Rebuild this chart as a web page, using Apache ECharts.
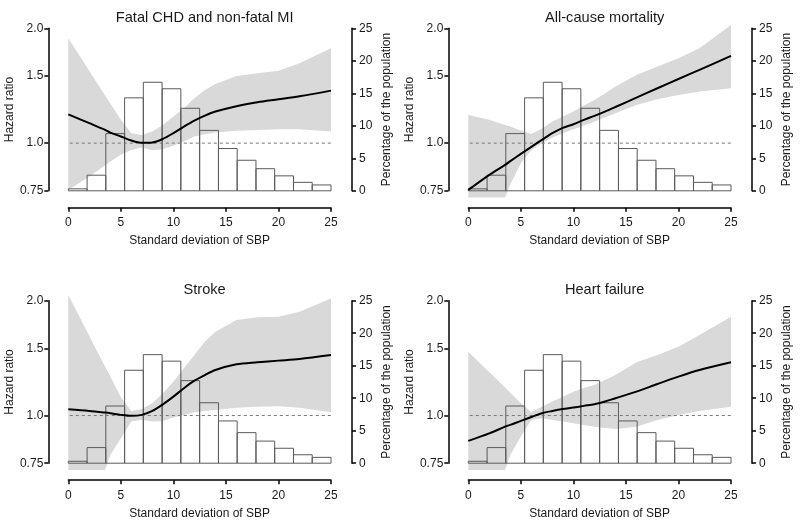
<!DOCTYPE html>
<html>
<head>
<meta charset="utf-8">
<script src="https://cdn.jsdelivr.net/npm/echarts@6/dist/echarts.min.js"></script>
<style>
  html, body { margin: 0; padding: 0; background: #fff; }
  #main { width: 800px; height: 526px; }
</style>
</head>
<body>
<div id="main"></div>
<script>
// 图形数据
var panelTitles = ['Fatal CHD and non-fatal MI', 'All-cause mortality', 'Stroke', 'Heart failure'];

// SD of SBP where the curves were read
var sbpGrid = [0, 2, 3.5, 4, 5, 6, 7, 8, 9, 10, 11, 12, 13, 14, 16, 18, 20, 22, 25];

// hazard ratio curves and 95% bands
var chdHr    = [1.19, 1.128, 1.083, 1.066, 1.041, 1.016, 1.002, 1.004, 1.026, 1.062, 1.105, 1.146, 1.181, 1.21, 1.25, 1.28, 1.303, 1.327, 1.373];
var chdUpper = [1.883, 1.546, 1.334, 1.27, 1.151, 1.062, 1.051, 1.072, 1.116, 1.174, 1.234, 1.311, 1.379, 1.43, 1.5, 1.525, 1.549, 1.619, 1.773];
var chdLower = [0.754, 0.818, 0.874, 0.895, 0.932, 0.96, 0.974, 0.958, 0.964, 0.984, 1.01, 1.041, 1.055, 1.066, 1.077, 1.083, 1.088, 1.088, 1.072];

var mortHr    = [0.754, 0.826, 0.877, 0.897, 0.937, 0.978, 1.02, 1.062, 1.096, 1.121, 1.151, 1.179, 1.21, 1.244, 1.316, 1.393, 1.473, 1.556, 1.693];
var mortUpper = [1.186, 1.151, 1.116, 1.105, 1.08, 1.057, 1.09, 1.139, 1.175, 1.21, 1.255, 1.298, 1.35, 1.407, 1.509, 1.587, 1.669, 1.773, 2.04];
var mortLower = [0.72, 0.72, 0.72, 0.78, 0.886, 0.96, 1.0, 1.035, 1.062, 1.088, 1.113, 1.139, 1.168, 1.198, 1.259, 1.303, 1.338, 1.365, 1.393];

var strokeHr    = [1.038, 1.028, 1.018, 1.014, 1.004, 0.998, 1.004, 1.028, 1.07, 1.121, 1.179, 1.234, 1.277, 1.316, 1.362, 1.379, 1.393, 1.407, 1.441];
var strokeUpper = [2.07, 1.616, 1.343, 1.265, 1.116, 1.028, 1.04, 1.077, 1.144, 1.227, 1.33, 1.441, 1.562, 1.659, 1.78, 1.809, 1.815, 1.872, 2.028];
var strokeLower = [0.72, 0.72, 0.72, 0.788, 0.872, 0.964, 0.975, 0.964, 0.968, 0.988, 1.004, 1.02, 1.027, 1.034, 1.048, 1.054, 1.058, 1.048, 1.02];

var hfHr    = [0.858, 0.898, 0.935, 0.945, 0.968, 0.991, 1.014, 1.028, 1.04, 1.049, 1.06, 1.07, 1.088, 1.11, 1.155, 1.21, 1.265, 1.316, 1.379];
var hfUpper = [1.47, 1.298, 1.184, 1.146, 1.077, 1.02, 1.055, 1.088, 1.12, 1.155, 1.18, 1.203, 1.24, 1.277, 1.379, 1.441, 1.515, 1.626, 1.816];
var hfLower = [0.72, 0.72, 0.72, 0.788, 0.881, 0.974, 0.984, 0.974, 0.964, 0.954, 0.945, 0.935, 0.928, 0.922, 0.935, 0.974, 1.004, 1.028, 1.055];

// histogram (same in every panel)
var binEdges = [0, 1.79, 3.57, 5.36, 7.14, 8.93, 10.71, 12.5, 14.29, 16.07, 17.86, 19.64, 21.43, 23.21, 25];
var binPercent = [0.3, 2.4, 8.8, 14.3, 16.7, 15.7, 12.7, 9.3, 6.5, 4.7, 3.4, 2.3, 1.3, 0.9];

var hrTicks = [0.75, 1.0, 1.5, 2.0];
var sbpTicks = [0, 5, 10, 15, 20, 25];

var panelHr = [chdHr, mortHr, strokeHr, hfHr];
var panelUpper = [chdUpper, mortUpper, strokeUpper, hfUpper];
var panelLower = [chdLower, mortLower, strokeLower, hfLower];

///////////////////////////////////////
var FONT = '"Liberation Sans", Arial, sans-serif';
var TXT = '#1a1a1a';
var gridLeft = [68.3, 468.3];
var gridTop = [28.3, 300.7];
var gridW = 262.7, gridH = 162.5;

var myChart = echarts.init(document.getElementById('main'));

var option = {
    backgroundColor: '#fff',
    animation: false,
    title: [],
    grid: [],
    xAxis: [],
    yAxis: [],
    series: []
};

for (var p = 0; p < 4; p++) {
    var col = p % 2, row = Math.floor(p / 2);

    option.title.push({
        text: panelTitles[p],
        left: gridLeft[col] + gridW / 2,
        top: gridTop[row] - 23,
        textAlign: 'center',
        textStyle: { fontFamily: FONT, fontSize: 14.6, fontWeight: 'normal', color: TXT }
    });

    option.grid.push({
        left: gridLeft[col],
        top: gridTop[row],
        width: gridW,
        height: gridH,
        containLabel: false,
        outerBoundsMode: 'none'
    });

    option.xAxis.push({
        gridIndex: p,
        type: 'value',
        min: 0,
        max: 25,
        interval: 5,
        offset: 17,
        name: 'Standard deviation of SBP',
        nameLocation: 'middle',
        nameGap: 27,
        nameTextStyle: { fontFamily: FONT, fontSize: 12, color: TXT },
        axisLine: { show: true, onZero: false, lineStyle: { color: '#000', width: 1.5 } },
        axisTick: { show: true, length: 4, lineStyle: { color: '#000', width: 1.5 } },
        axisLabel: { fontFamily: FONT, fontSize: 12, color: TXT, margin: 9,
            customValues: sbpTicks },
        splitLine: { show: false }
    });

    // left: hazard ratio on a log scale
    option.yAxis.push({
        gridIndex: p,
        type: 'log',
        min: 0.75,
        max: 2,
        position: 'left',
        offset: 20,
        name: 'Hazard ratio',
        nameLocation: 'middle',
        nameRotate: 90,
        nameGap: 29,
        nameTextStyle: { fontFamily: FONT, fontSize: 12, color: TXT },
        axisLine: { show: true, onZero: false, lineStyle: { color: '#000', width: 1.5 } },
        axisTick: { show: true, length: 4, customValues: hrTicks, lineStyle: { color: '#000', width: 1.5 } },
        axisLabel: { fontFamily: FONT, fontSize: 12, color: TXT, margin: 5,
            customValues: hrTicks,
            formatter: function (v) { return v === 0.75 ? '0.75' : Number(v).toFixed(1); } },
        splitLine: { show: false }
    });

    // right: percentage of the population
    option.yAxis.push({
        gridIndex: p,
        type: 'value',
        min: 0,
        max: 25,
        interval: 5,
        position: 'right',
        offset: 21,
        name: 'Percentage of the population',
        nameLocation: 'middle',
        nameRotate: 90,
        nameGap: 29,
        nameTextStyle: { fontFamily: FONT, fontSize: 12, color: TXT },
        axisLine: { show: true, onZero: false, lineStyle: { color: '#000', width: 1.5 } },
        axisTick: { show: true, length: 4, lineStyle: { color: '#000', width: 1.5 } },
        axisLabel: { fontFamily: FONT, fontSize: 12, color: TXT, margin: 7 },
        splitLine: { show: false }
    });

    // 置信区间带
    var bandData = sbpGrid.map(function (x, i) { return [x, panelLower[p][i], panelUpper[p][i]]; });
    option.series.push({
        type: 'custom',
        xAxisIndex: p,
        yAxisIndex: p * 2,
        clip: false,
        silent: true,
        z: 1,
        data: bandData,
        encode: { x: 0, y: [1, 2] },
        renderItem: (function (pts) {
            return function (params, api) {
                if (params.dataIndex !== 0) return null;
                var poly = [];
                for (var i = 0; i < pts.length; i++) poly.push(api.coord([pts[i][0], pts[i][2]]));
                for (var j = pts.length - 1; j >= 0; j--) poly.push(api.coord([pts[j][0], pts[j][1]]));
                return { type: 'polygon', shape: { points: poly }, style: { fill: '#d9d9d9', stroke: null } };
            };
        })(bandData)
    });

    // 直方图
    var histData = binPercent.map(function (v, i) { return [binEdges[i], binEdges[i + 1], v]; });
    option.series.push({
        type: 'custom',
        xAxisIndex: p,
        yAxisIndex: p * 2 + 1,
        silent: true,
        z: 2,
        data: histData,
        encode: { x: [0, 1], y: 2 },
        renderItem: function (params, api) {
            var a = api.coord([api.value(0), api.value(2)]);
            var b = api.coord([api.value(1), 0]);
            return {
                type: 'rect',
                shape: { x: a[0], y: a[1], width: b[0] - a[0], height: b[1] - a[1] },
                style: { fill: 'rgba(0,0,0,0)', stroke: '#5a5a5a', lineWidth: 1 }
            };
        }
    });

    // reference line at HR = 1
    option.series.push({
        type: 'line',
        xAxisIndex: p,
        yAxisIndex: p * 2,
        clip: false,
        silent: true,
        z: 3,
        symbol: 'none',
        data: [[-1, 1], [26, 1]],
        lineStyle: { color: '#777', width: 1, type: [3, 3] }
    });

    // 拟合曲线
    option.series.push({
        type: 'line',
        xAxisIndex: p,
        yAxisIndex: p * 2,
        silent: true,
        z: 4,
        symbol: 'none',
        smooth: 0.3,
        data: sbpGrid.map(function (x, i) { return [x, panelHr[p][i]]; }),
        lineStyle: { color: '#000', width: 2 }
    });
}

myChart.setOption(option);
</script>
</body>
</html>
